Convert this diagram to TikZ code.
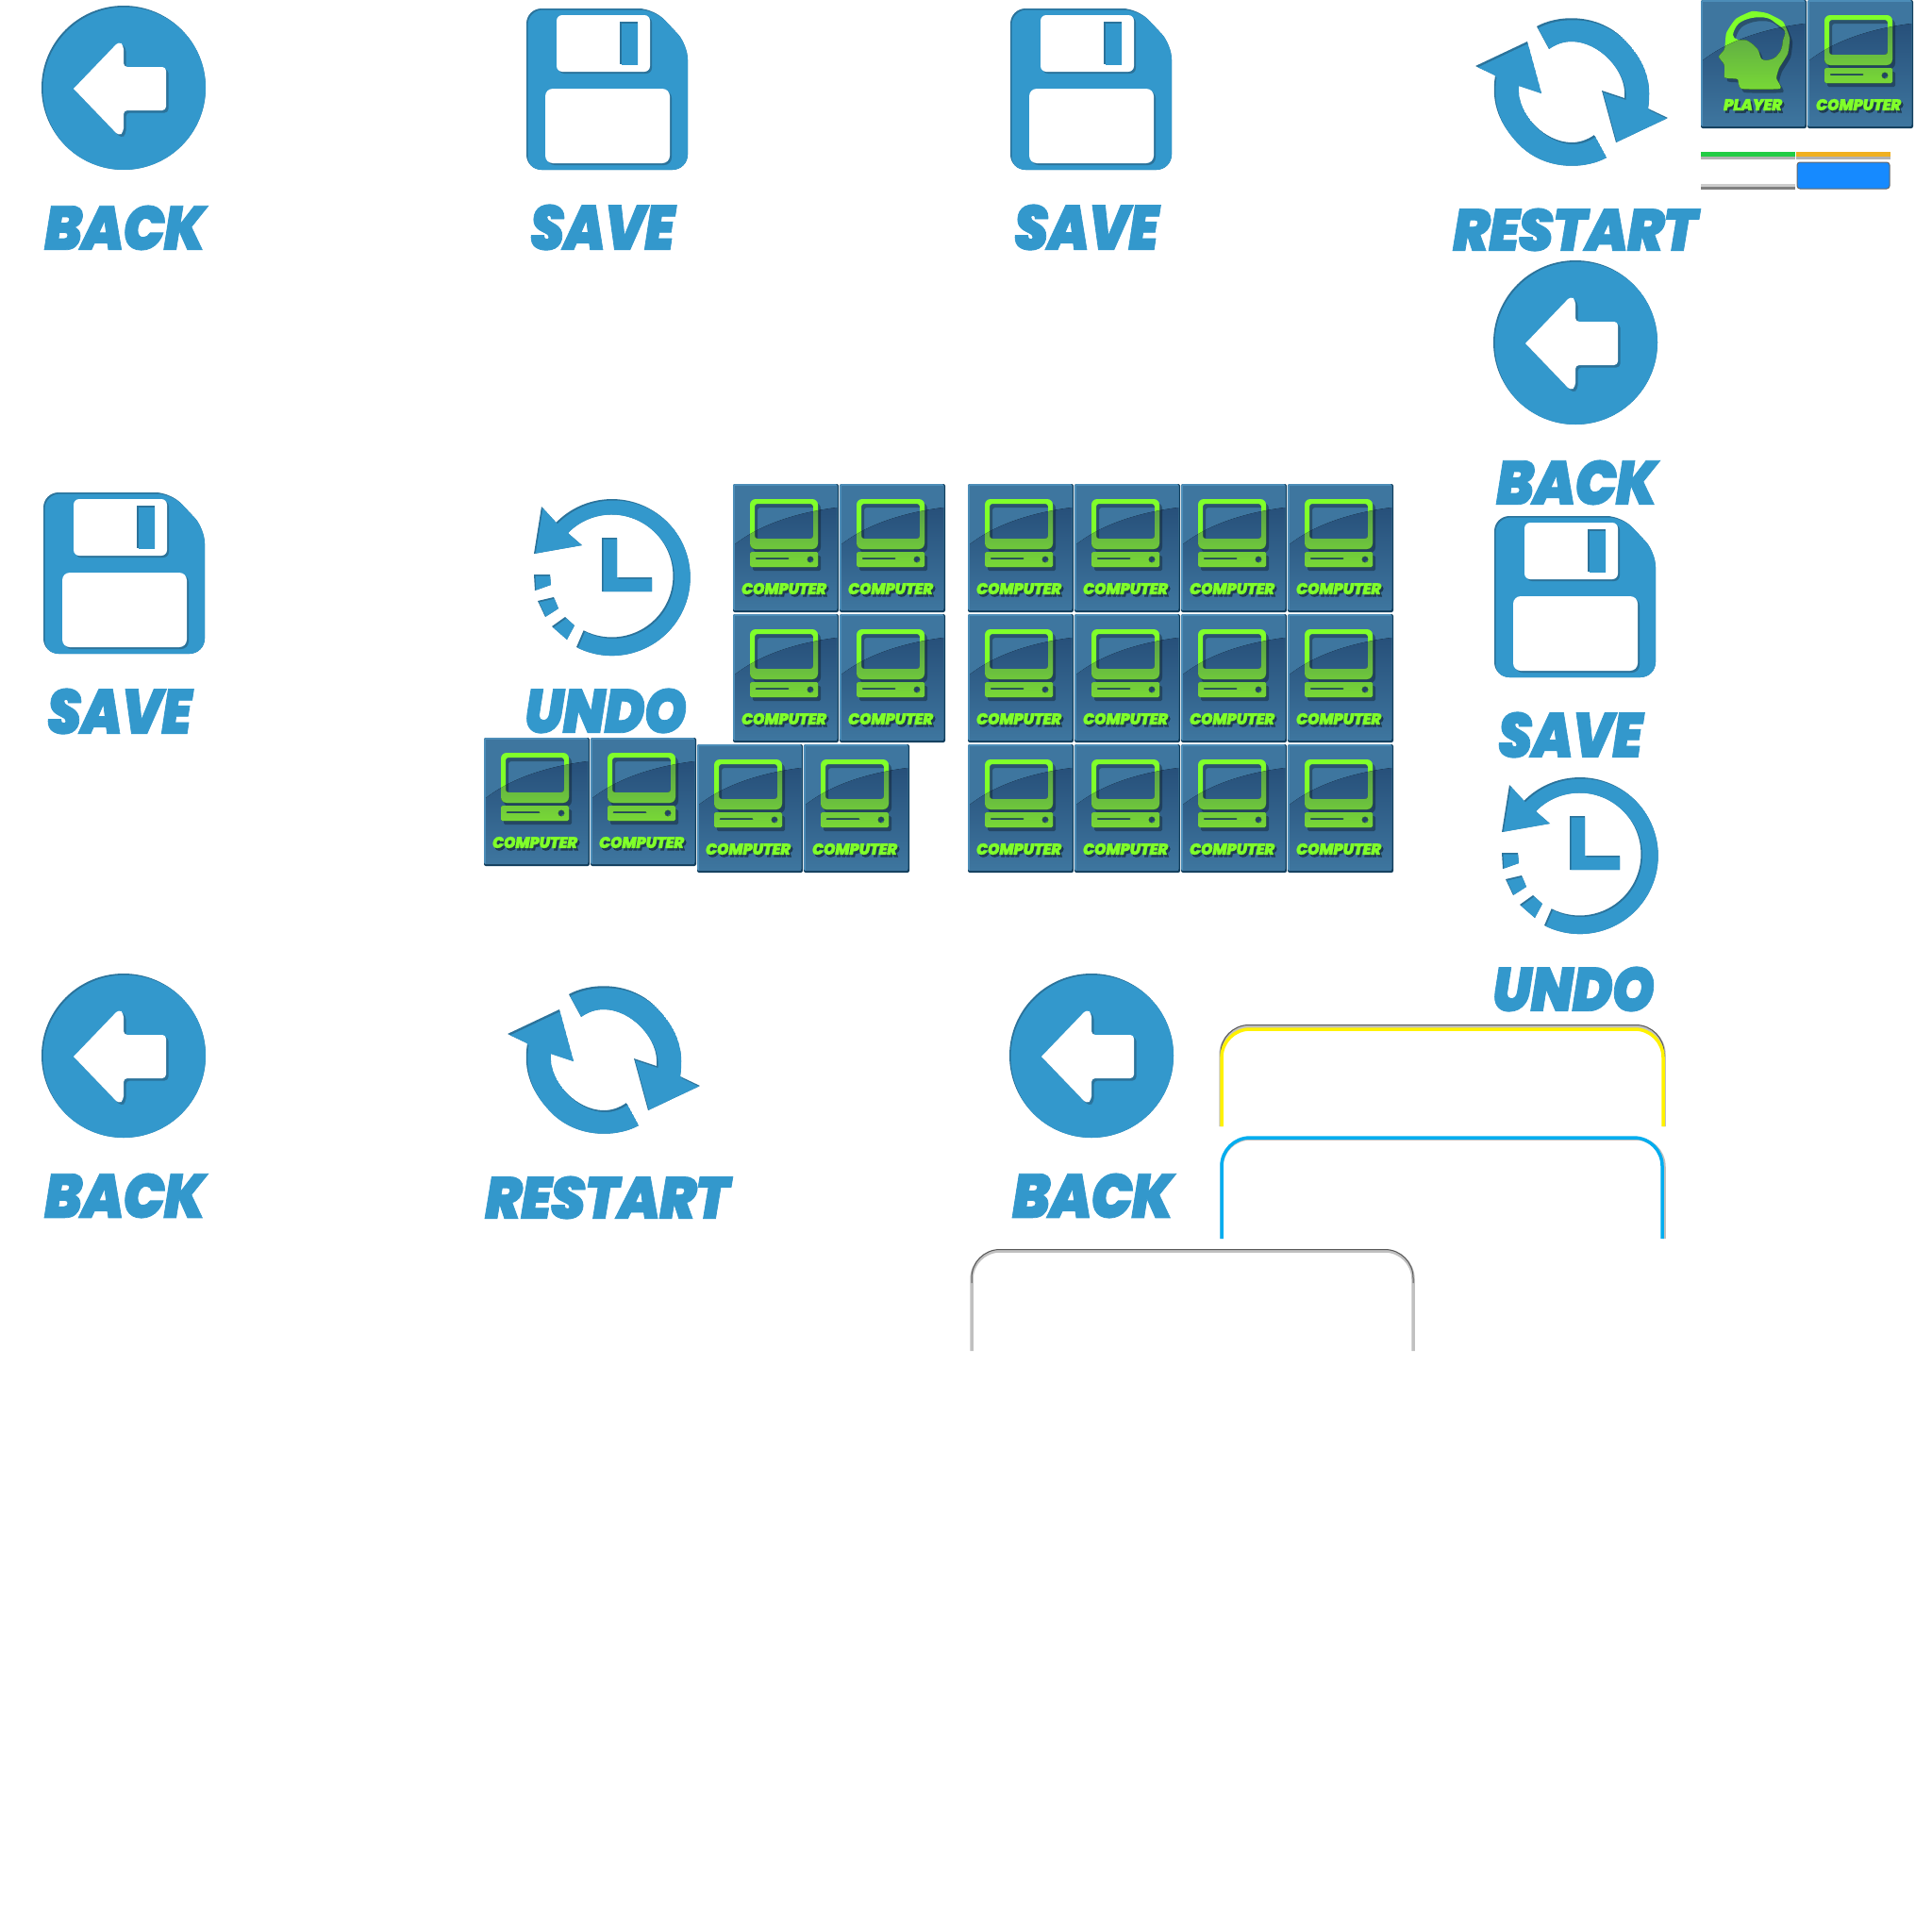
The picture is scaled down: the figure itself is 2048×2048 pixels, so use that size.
\documentclass[tikz,border=0pt]{standalone}
\usepackage{graphicx}
\usepackage{fontspec}
\newfontfamily\iconfont[FakeBold=1.2,LetterSpace=-2]{Poppins Black Italic}
\definecolor{iconblue}{HTML}{3398CC}
\definecolor{iconshade}{HTML}{2B739B}
\definecolor{tilebody}{HTML}{3E769F}
\definecolor{tilelight}{HTML}{4C8DB8}
\definecolor{tileedge}{HTML}{123F5E}
\definecolor{glassdark}{HTML}{27507A}
\definecolor{glassmid}{HTML}{2D5C86}
\definecolor{tilegreen}{HTML}{80FF2A}
\definecolor{greendark}{HTML}{55994A}
\definecolor{greenlow}{HTML}{78D836}
\definecolor{framegrey}{HTML}{C0C0C0}
\definecolor{frameyellow}{HTML}{FFF200}
\definecolor{frameblue}{HTML}{00ADEF}
\definecolor{barblue}{HTML}{168AFF}
\definecolor{bargreen}{HTML}{22CC44}
\definecolor{barorange}{HTML}{F0B020}
\newcommand{\insetfill}[1]{%
  \fill[iconshade] #1;
  \begin{scope}
    \clip #1;
    \fill[iconblue,shift={(1.5,1.5)}] #1;
  \end{scope}}
\newcommand{\icontext}[5]{\node[inner sep=0pt,text=iconblue] (label) at (#1,#2) {\resizebox{#3pt}{#4pt}{\iconfont #5}};}
\newcommand{\tiletext}[4]{%
  \node[inner sep=0pt,text=black,opacity=.45] (shade) at (#1+2,#2+2.5) {\resizebox{#3pt}{12pt}{\iconfont #4}};
  \node[inner sep=0pt,text=tilegreen] (label) at (#1,#2) {\resizebox{#3pt}{12pt}{\iconfont #4}};}
\newcommand{\glasspath}{(2,64) .. controls (30,42) and (70,30) .. (110,25) -- (110,134) -- (2,134) -- cycle}
\newcommand{\tileback}{%
  \fill[tileedge,rounded corners=2pt] (0,0) rectangle (112,136);
  \fill[tilelight,rounded corners=2pt] (0,0) rectangle (110.5,134);
  \fill[tilebody] (2,2) rectangle (110,134);
  \fill[top color=glassdark,middle color=glassmid,bottom color=tilebody] \glasspath;}
\newcommand{\tilefront}[1]{%
  \fill[black,opacity=.3,even odd rule,shift={(3,4)}] #1;
  \fill[tilegreen,even odd rule] #1;
  \begin{scope}
    \clip \glasspath;
    \fill[top color=greendark,middle color=greendark,bottom color=greenlow,even odd rule] #1;
  \end{scope}}
\newcommand{\monitorpath}{[rounded corners=6pt] (18,16) rectangle (90,69) [rounded corners=3pt] (23,21) rectangle (85,58)
  [rounded corners=1.5pt] (18,72) rectangle (90,88) (23,78) rectangle (60,80) [sharp corners] (82,80) circle (3.5pt)}
\newcommand{\headpath}{plot[smooth cycle,tension=.3] coordinates {(43,94) (84,94) (80,83) (83,72) (92,57) (94,40) (87,23) (70,14) (54,12) (37,20) (27,35) (25,52) (19,60) (24,67) (25,70) (25,74) (25,77) (25,82) (29,83) (39,84)}
  plot[smooth cycle,tension=.6] coordinates {(34,37) (40,25) (54,19) (70,19) (80,25) (89,33) (87,43) (85,53) (77,62) (65,63) (60,52) (49,43) (39,42)}}
\newcommand{\arrowpath}{(34,88) [rounded corners=4pt] -- (82,38) -- (87,42) -- (87,65) -- (132,65) -- (132,111) -- (87,111) -- (87,134) -- (82,138) [sharp corners] -- cycle}
\newcommand{\diskpath}{[rounded corners=16pt] (0,0) -- (135,0) -- (171,38) -- (171,171) -- (0,171) -- cycle}
\newcommand{\sweeppath}{(99,28) .. controls (118,17) and (160,12) .. (190,40) .. controls (212,62) and (222,85) .. (217,115) -- (238,125) -- (183,151) -- (168,96) -- (192,104) .. controls (195,75) and (165,44) .. (136,44) .. controls (127,44) and (119,47) .. (112,52) -- cycle}
\newcommand{\clockpath}{(81,187) arc[start angle=243,end angle=495.5,radius=83pt] -- (44,38) -- (36,88) -- (87,79) -- (72,66) arc[start angle=135.6,end angle=-117.3,radius=65pt] -- cycle}
\tikzset{
  computertile/.pic={
    \tileback
    \tilefront{\monitorpath}
    \tiletext{54}{111}{90}{COMPUTER}
  },
  playertile/.pic={
    \tileback
    \tilefront{\headpath}
    \tiletext{55}{111}{62}{PLAYER}
  },
  backicon/.pic={
    \insetfill{(87,87) circle (87pt)}
    \fill[iconshade,shift={(2.5,2.5)}] \arrowpath;
    \fill[white] \arrowpath;
    \icontext{88.5}{235.5}{171}{47}{BACK}
  },
  saveicon/.pic={
    \insetfill{\diskpath}
    \fill[iconshade,rounded corners=6pt] (34,9) rectangle (133,69);
    \fill[white,rounded corners=6pt] (32,7) rectangle (131,67);
    \insetfill{(99,14) rectangle (118,59)}
    \fill[iconshade,rounded corners=8pt] (22,87) rectangle (154,166);
    \fill[white,rounded corners=8pt] (20,85) rectangle (152,164);
    \icontext{80.5}{232}{153}{48}{SAVE}
  },
  restarticon/.pic={
    \foreach \turn/\dx/\dy in {0/1.5/2,180/-1.5/-2}{
      \begin{scope}[rotate around={\turn:(136,97.5)}]
        \clip \sweeppath;
        \fill[iconshade] \sweeppath;
        \fill[iconblue,shift={(\dx,\dy)}] \sweeppath;
      \end{scope}
    }
    \icontext{139.5}{243.5}{259}{45}{RESTART}
  },
  undoicon/.pic={
    \insetfill{\clockpath}
    \insetfill{(108,71) -- (124,71) -- (124,113) -- (161,113) -- (161,128) -- (108,128) -- cycle}
    \insetfill{(36,110) -- (53,110) -- (54,121) -- (37,127) -- cycle}
    \insetfill{(40,138) -- (57,134) -- (62,146) -- (48,155) -- cycle}
    \insetfill{(55,165) -- (69,155) -- (79,164) -- (71,179) -- cycle}
    \icontext{112}{254.5}{172}{47}{UNDO}
  },
  frameline/.style={draw=#1,line width=3.5pt,rounded corners=30pt},
  frametop/.style={draw=black!65,line width=1pt,rounded corners=30pt}
}
\begin{document}
\begin{tikzpicture}[x=1pt,y=-1pt]
  \useasboundingbox (0,0) rectangle (2048,2048);
  \pic (backa) at (44,6) {backicon};
  \pic (backb) at (1583,276) {backicon};
  \pic (backc) at (44,1032) {backicon};
  \pic (backd) at (1070,1032) {backicon};
  \pic (savea) at (558,9) {saveicon};
  \pic (saveb) at (1071,9) {saveicon};
  \pic (savec) at (46,522) {saveicon};
  \pic (saved) at (1584,547) {saveicon};
  \pic (restarta) at (1530,0) {restarticon};
  \pic (restartb) at (504,1026) {restarticon};
  \pic (undoa) at (530,499) {undoicon};
  \pic (undob) at (1556,794) {undoicon};
  \pic (player) at (1803,0) {playertile};
  \pic (computer) at (1916,0) {computertile};
  \foreach \col in {777,890}
    \foreach \row in {513,651}
      \pic (tile\col-\row) at (\col,\row) {computertile};
  \foreach \col in {1026,1139,1252,1365}
    \foreach \row in {513,651,789}
      \pic (tile\col-\row) at (\col,\row) {computertile};
  \pic (lowa) at (513,782) {computertile};
  \pic (lowb) at (626,782) {computertile};
  \pic (lowc) at (739,789) {computertile};
  \pic (lowd) at (852,789) {computertile};
  \fill[gray!60] (1803,164) rectangle (1903,169);
  \fill[bargreen] (1803,161) rectangle (1903,166);
  \fill[gray!60] (1904,164) rectangle (2004,169);
  \fill[barorange] (1904,161) rectangle (2004,166);
  \fill[gray!40] (1803,195) rectangle (1903,198);
  \fill[gray] (1803,198) rectangle (1903,201);
  \draw[draw=black!60,fill=barblue,line width=1pt,rounded corners=3pt] (1905,172) rectangle (2003,200);
  \draw[frameline=framegrey] (1294,1194) -- (1294,1088) -- (1764,1088) -- (1764,1194);
  \draw[frametop] (1294,1120) -- (1294,1086.5) -- (1764,1086.5) -- (1764,1120);
  \draw[frameline=frameyellow] (1295,1194) -- (1295,1091) -- (1763,1091) -- (1763,1194);
  \draw[frameline=framegrey] (1295,1313) -- (1295,1207) -- (1764,1207) -- (1764,1313);
  \draw[frameline=frameblue] (1295,1313) -- (1295,1206) -- (1762,1206) -- (1762,1313);
  \draw[frameline=framegrey] (1030,1432) -- (1030,1326) -- (1498,1326) -- (1498,1432);
  \draw[frametop] (1030,1360) -- (1030,1324.5) -- (1498,1324.5) -- (1498,1360);
\end{tikzpicture}
\end{document}
